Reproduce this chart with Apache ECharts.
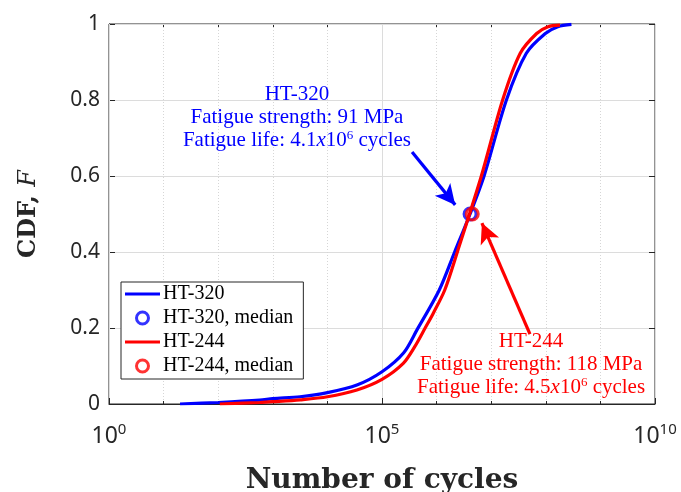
<!DOCTYPE html>
<html>
<head>
<meta charset="utf-8">
<script src="https://cdn.jsdelivr.net/npm/echarts@6/dist/echarts.min.js"></script>
<style>html,body{margin:0;padding:0;background:#fff}#c{width:681px;height:492px}</style>
</head>
<body>
<div id="c"></div>
<script>
// ---- data ----
const seriesNames = ['HT-320', 'HT-320, median', 'HT-244', 'HT-244, median'];
const blueN = [20, 100, 575, 1000, 3160, 1e4, 3.47e4, 1e5, 2.5e5, 4.37e5, 1.12e6, 2.14e6, 4.1e6, 7.4e6, 1.9e7, 4.4e7, 9.8e7, 1.66e8, 2.95e8];
const blueF = [0.000, 0.004, 0.010, 0.014, 0.019, 0.030, 0.050, 0.085, 0.135, 0.195, 0.300, 0.400, 0.500, 0.600, 0.800, 0.923, 0.975, 0.993, 0.999];
const redN = [107, 575, 1000, 3160, 1e4, 3.47e4, 1e5, 2.45e5, 3.98e5, 6.17e5, 8.7e5, 1.41e6, 2.4e6, 6.6e6, 1.62e7, 3.4e7, 6.8e7, 1.1e8, 1.82e8];
const redF = [0.000, 0.004, 0.006, 0.011, 0.019, 0.037, 0.065, 0.107, 0.151, 0.200, 0.239, 0.300, 0.400, 0.600, 0.800, 0.923, 0.975, 0.993, 0.997];
const blueMedian = [4.1e6, 0.5];
const redMedian = [4.5e6, 0.5];
// annotation anchors (data coords)
const blueArrow = [[3.55e5, 0.663], [2.19e6, 0.524]];
const redArrow = [[5.13e7, 0.184], [6.76e6, 0.476]];
const blueNote = [2770, 0.755];
const redNote = [5.37e7, 0.103];

const BLUE = '#0000ff', RED = '#ff0000', AX = '#262626';
const SERIF = '"Liberation Serif", "DejaVu Serif", serif';
const SANS = '"Noto Sans", "Open Sans", sans-serif';

function zip(a, b) { return a.map((v, i) => [v, b[i]]); }

const noteRich = {
  t: { fontFamily: SERIF, fontSize: 21, lineHeight: 23 },
  i: { fontFamily: SERIF, fontSize: 21, lineHeight: 23, fontStyle: 'italic' },
  s: { fontFamily: SERIF, fontSize: 13, lineHeight: 10, verticalAlign: 'top' }
};

const chart = echarts.init(document.getElementById('c'), null, { renderer: 'canvas' });
const logBase = { type: 'log', logBase: 10, min: 1, max: 1e10 };
const tickStyle = { color: AX, width: 1 };
chart.setOption({
  animation: false,
  backgroundColor: '#fff',
  grid: { left: 109, right: 26, top: 24, bottom: 88, show: true, borderColor: AX, borderWidth: 1, backgroundColor: 'transparent', containLabel: false, outerBoundsMode: 'none' },
  legend: {
    orient: 'vertical', left: 121, top: 282,
    itemWidth: 35, itemHeight: 12, itemGap: 4,
    backgroundColor: '#fff', borderColor: AX, borderWidth: 1, borderRadius: 0,
    padding: [2, 10, 3, 4],
    textStyle: { fontFamily: SERIF, fontSize: 20, lineHeight: 20, color: '#000', padding: [0, 0, 0, -2] },
    data: [
      { name: seriesNames[0], icon: 'path://M0,0H35V3.2H0Z', itemStyle: { color: BLUE } },
      { name: seriesNames[1], icon: 'circle', itemStyle: { color: '#fff', borderColor: BLUE, borderWidth: 3 } },
      { name: seriesNames[2], icon: 'path://M0,0H35V3.2H0Z', itemStyle: { color: RED } },
      { name: seriesNames[3], icon: 'circle', itemStyle: { color: '#fff', borderColor: RED, borderWidth: 3 } }
    ]
  },
  xAxis: [
    Object.assign({}, logBase, {
      interval: 5, position: 'bottom',
      name: 'Number of cycles', nameLocation: 'middle', nameGap: 63,
      nameTextStyle: { fontFamily: '"DejaVu Serif", serif', fontWeight: 'bold', fontSize: 28, color: AX },
      axisLine: { show: true, lineStyle: { color: AX, width: 1 } },
      axisTick: { show: true, inside: true, length: 6, lineStyle: tickStyle },
      splitLine: { show: true, lineStyle: { color: '#dcdcdc', width: 1 } },
      axisLabel: {
        margin: 18,
        formatter: v => '{b|10}{s|' + Math.round(Math.log10(v)) + '}',
        rich: {
          b: { fontFamily: SANS, fontSize: 23, color: AX, lineHeight: 28 },
          s: { fontFamily: SANS, fontSize: 15, color: AX, lineHeight: 12, verticalAlign: 'top' }
        }
      },
      z: 3
    }),
    Object.assign({}, logBase, {
      interval: 1, position: 'bottom', offset: 0,
      axisLine: { show: false },
      axisTick: { show: true, inside: true, length: 3, lineStyle: tickStyle },
      splitLine: { show: true, lineStyle: { color: '#d6d6d6', type: [1, 2], width: 1 } },
      axisLabel: { show: false }, z: 2
    }),
    Object.assign({}, logBase, {
      interval: 5, position: 'top', offset: 0,
      axisLine: { show: false },
      axisTick: { show: true, inside: true, length: 6, lineStyle: tickStyle },
      splitLine: { show: false }, axisLabel: { show: false }
    }),
    Object.assign({}, logBase, {
      interval: 1, position: 'top', offset: 0,
      axisLine: { show: false },
      axisTick: { show: true, inside: true, length: 3, lineStyle: tickStyle },
      splitLine: { show: false }, axisLabel: { show: false }
    })
  ],
  yAxis: [
    {
      type: 'value', min: 0, max: 1, interval: 0.2, position: 'left',
      name: '{b|CDF, }{i|F}', nameLocation: 'middle', nameGap: 68, nameRotate: 90,
      nameTextStyle: {
        rich: {
          b: { fontFamily: '"DejaVu Serif", serif', fontWeight: 'bold', fontSize: 24, color: AX },
          i: { fontFamily: '"DejaVu Serif", serif', fontStyle: 'italic', fontSize: 24, color: AX }
        }
      },
      axisLine: { show: true, lineStyle: { color: AX } },
      axisTick: { show: true, inside: true, length: 6, lineStyle: tickStyle },
      splitLine: { show: true, lineStyle: { color: '#dcdcdc', width: 1 } },
      axisLabel: { margin: 9, fontFamily: SANS, fontSize: 21, color: AX, formatter: v => String(+v.toFixed(1)) }
    },
    {
      type: 'value', min: 0, max: 1, interval: 0.2, position: 'right',
      axisLine: { show: false },
      axisTick: { show: true, inside: true, length: 6, lineStyle: tickStyle },
      splitLine: { show: false }, axisLabel: { show: false }
    }
  ],
  series: [
    {
      name: seriesNames[0], type: 'line', xAxisIndex: 0, yAxisIndex: 0,
      data: zip(blueN, blueF), smooth: 0.3, showSymbol: false, symbol: 'none',
      color: BLUE, lineStyle: { color: BLUE, width: 3.2 }, z: 3,
      markLine: {
        silent: true, symbol: ['none', 'arrow'], symbolSize: [15, 20],
        label: { show: false }, lineStyle: { color: BLUE, width: 3.2, type: 'solid' },
        data: [[{ coord: blueArrow[0] }, { coord: blueArrow[1] }]]
      },
      markPoint: {
        silent: true, symbol: 'circle', symbolSize: 1, itemStyle: { color: 'transparent' },
        label: {
          show: true, position: 'inside', color: BLUE, align: 'center',
          formatter: '{t|HT-320}\n{t|Fatigue strength: 91 MPa}\n{t|Fatigue life: 4.1}{i|x}{t|10}{s|6}{t| cycles}',
          rich: noteRich
        },
        data: [{ coord: blueNote }]
      }
    },
    {
      name: seriesNames[1], type: 'scatter', xAxisIndex: 0, yAxisIndex: 0,
      data: [blueMedian], symbol: 'circle', symbolSize: 12, z: 4,
      itemStyle: { color: 'transparent', borderColor: BLUE, borderWidth: 3 }
    },
    {
      name: seriesNames[2], type: 'line', xAxisIndex: 0, yAxisIndex: 0,
      data: zip(redN, redF), smooth: 0.3, showSymbol: false, symbol: 'none',
      color: RED, lineStyle: { color: RED, width: 3.2 }, z: 5,
      markLine: {
        silent: true, symbol: ['none', 'arrow'], symbolSize: [15, 20],
        label: { show: false }, lineStyle: { color: RED, width: 3.2, type: 'solid' },
        data: [[{ coord: redArrow[0] }, { coord: redArrow[1] }]]
      },
      markPoint: {
        silent: true, symbol: 'circle', symbolSize: 1, itemStyle: { color: 'transparent' },
        label: {
          show: true, position: 'inside', color: RED, align: 'center',
          formatter: '{t|HT-244}\n{t|Fatigue strength: 118 MPa}\n{t|Fatigue life: 4.5}{i|x}{t|10}{s|6}{t| cycles}',
          rich: noteRich
        },
        data: [{ coord: redNote }]
      }
    },
    {
      name: seriesNames[3], type: 'scatter', xAxisIndex: 0, yAxisIndex: 0,
      data: [redMedian], symbol: 'circle', symbolSize: 12, z: 6,
      itemStyle: { color: 'transparent', borderColor: RED, borderWidth: 3 }
    }
  ]
});
</script>
</body>
</html>
